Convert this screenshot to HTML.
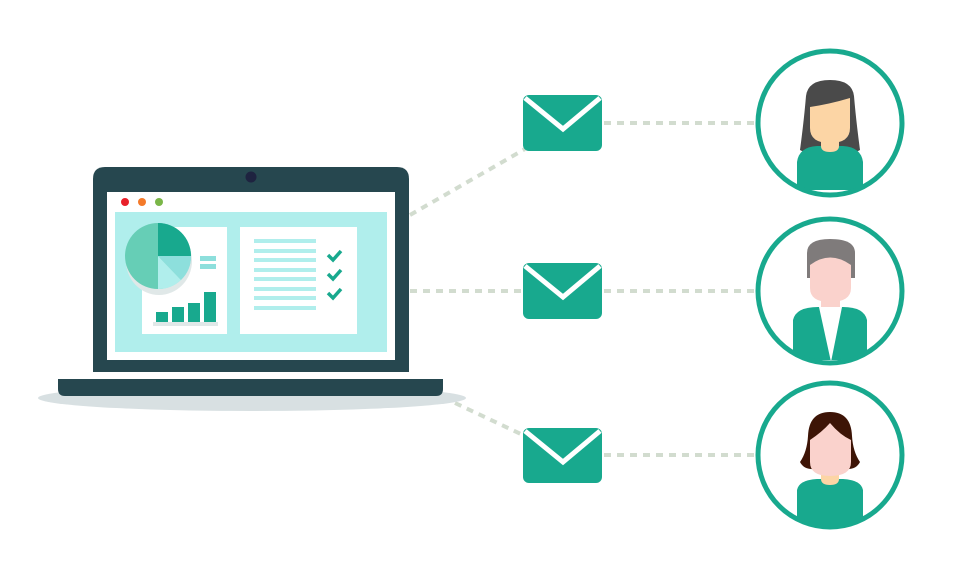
<!DOCTYPE html>
<html><head><meta charset="utf-8"><style>html,body{margin:0;padding:0;background:#fff}svg{display:block}</style></head>
<body>
<svg width="977" height="579" viewBox="0 0 977 579" xmlns="http://www.w3.org/2000/svg">
<g stroke="#d2dccf" stroke-width="4" stroke-dasharray="7 6" fill="none">
<line x1="410" y1="215" x2="525" y2="149"/>
<line x1="410" y1="291" x2="523" y2="291"/>
<line x1="455" y1="403" x2="525" y2="436"/>
<line x1="604" y1="123" x2="757" y2="123"/>
<line x1="604" y1="291" x2="757" y2="291"/>
<line x1="604" y1="455" x2="757" y2="455"/>
</g>
<ellipse cx="252" cy="398" rx="214" ry="13" fill="#d8e0e2"/>
<path d="M58 379H443V389Q443 396 436 396H65Q58 396 58 389Z" fill="#26474f"/>
<path d="M93 179Q93 167 105 167H397Q409 167 409 179V372H93Z" fill="#26474f"/>
<circle cx="251" cy="177" r="5.5" fill="#1e2340"/>
<rect x="107" y="192" width="288" height="168" fill="#fff"/>
<circle cx="125" cy="202" r="4" fill="#e8202a"/>
<circle cx="142" cy="202" r="4" fill="#f47a2a"/>
<circle cx="159" cy="202" r="4" fill="#7ab648"/>
<rect x="115" y="212" width="272" height="140" fill="#b0eeec"/>
<rect x="142" y="227" width="85" height="107" fill="#fff"/>
<rect x="240" y="227" width="117" height="107" fill="#fff"/>
<ellipse cx="159" cy="261" rx="33" ry="34" fill="#e0e8e8"/>
<circle cx="158" cy="256" r="33" fill="#66ceb6"/>
<path d="M158 256V223A33 33 0 0 1 191 256Z" fill="#18a98e"/>
<path d="M158 256H191A33 33 0 0 1 181 280Z" fill="#8ddfdc"/>
<path d="M158 256L181 280A33 33 0 0 1 158 289Z" fill="#b0eeec"/>
<rect x="200" y="256" width="16" height="5" fill="#8ddfdc"/>
<rect x="200" y="264" width="16" height="5" fill="#8ddfdc"/>
<rect x="153" y="322" width="65" height="4" fill="#e0e8e8"/>
<g fill="#18a98e">
<rect x="156" y="312" width="12" height="10"/>
<rect x="172" y="307" width="12" height="15"/>
<rect x="188" y="303" width="12" height="19"/>
<rect x="204" y="292" width="12" height="30"/>
</g>
<g fill="#b0eeec">
<rect x="254" y="239" width="62" height="4"/>
<rect x="254" y="249" width="62" height="4"/>
<rect x="254" y="258" width="62" height="4"/>
<rect x="254" y="268" width="62" height="4"/>
<rect x="254" y="277" width="62" height="4"/>
<rect x="254" y="287" width="62" height="4"/>
<rect x="254" y="296" width="62" height="4"/>
<rect x="254" y="306" width="62" height="4"/>
</g>
<g stroke="#18a98e" stroke-width="3.5" fill="none">
<path d="M328 255l5 5 8-9"/>
<path d="M328 274l5 5 8-9"/>
<path d="M328 293l5 5 8-9"/>
</g>
<g>
<rect x="523" y="95" width="79" height="56" rx="6" fill="#18a98e"/>
<path d="M525 98L563 129L600 98" stroke="#fff" stroke-width="5" fill="none"/>
<rect x="523" y="263" width="79" height="56" rx="6" fill="#18a98e"/>
<path d="M525 266L563 297L600 266" stroke="#fff" stroke-width="5" fill="none"/>
<rect x="523" y="428" width="79" height="55" rx="6" fill="#18a98e"/>
<path d="M525 431L563 462L600 431" stroke="#fff" stroke-width="5" fill="none"/>
</g>
<defs>
<clipPath id="c1"><circle cx="830" cy="123" r="70"/></clipPath>
<clipPath id="c2"><circle cx="830" cy="291" r="70"/></clipPath>
<clipPath id="c3"><circle cx="830" cy="455" r="70"/></clipPath>
</defs>
<g clip-path="url(#c1)">
<path d="M806 96Q808 80 830 80Q852 80 854 96Q856 120 860 150Q850 156 830 156Q810 156 800 150Q804 120 806 96Z" fill="#4a4a4a"/>
<path d="M797 190V162Q799 147 817 146H843Q861 147 863 162V190Z" fill="#18a98e"/>
<path d="M821 140h18v6q0 6-9 6t-9-6z" fill="#fcd5a5"/>
<path d="M810 107Q830 104 850 98V128Q850 143 830 143Q810 143 810 128Z" fill="#fcd5a5"/>
</g>
<circle cx="830" cy="123" r="72" fill="none" stroke="#18a98e" stroke-width="5"/>
<g clip-path="url(#c2)">
<path d="M807 253Q807 239 830 239Q855 239 855 253V278H807Z" fill="#7f7b7b"/>
<path d="M810 265Q830 250 851 265V288Q851 302 830 302Q810 302 810 288Z" fill="#fad2cc"/>
<rect x="821" y="298" width="19" height="10" fill="#fad2cc"/>
<path d="M793 360V320Q796 307 818 307H843Q864 307 867 320V360Z" fill="#18a98e"/>
<path d="M819 307H842L831 362Z" fill="#fff"/>
</g>
<circle cx="830" cy="291" r="72" fill="none" stroke="#18a98e" stroke-width="5"/>
<g clip-path="url(#c3)">
<path d="M808 436Q809 412 830 412Q851 412 852 436Q853 452 860 462Q856 470 845 469H815Q804 470 800 462Q807 452 808 436Z" fill="#3d1406"/>
<path d="M797 530V490Q799 480 817 479H843Q861 480 863 490V530Z" fill="#18a98e"/>
<path d="M821 472h18v7q0 6-9 6t-9-6z" fill="#fcd5a5"/>
<path d="M810 440Q822 432 830 423Q840 435 851 440V462Q851 476 830 476Q810 476 810 462Z" fill="#fad2cc"/>
</g>
<circle cx="830" cy="455" r="72" fill="none" stroke="#18a98e" stroke-width="5"/>
</svg>
</body></html>
